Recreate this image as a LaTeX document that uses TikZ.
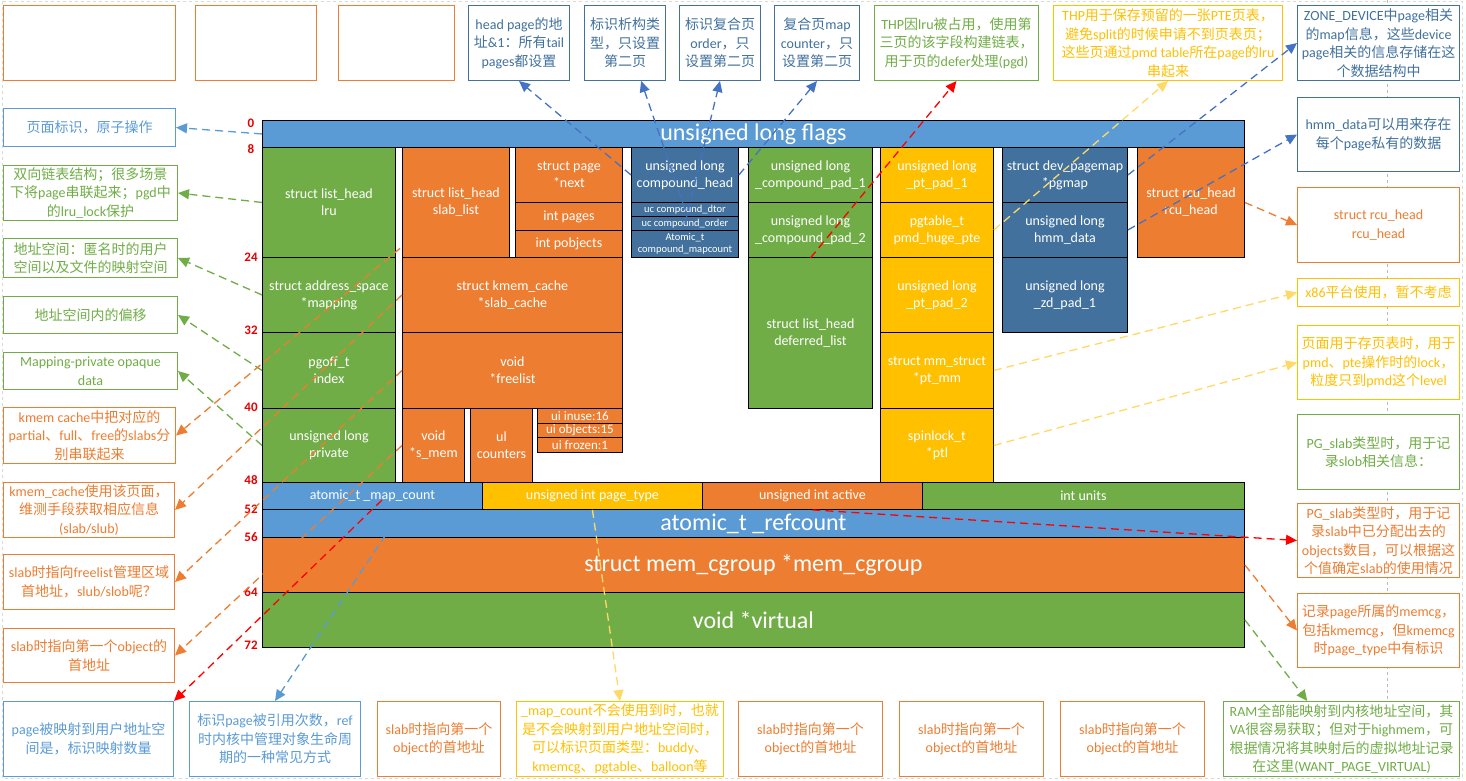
\documentclass[tikz,border=0pt]{standalone}
\usepackage{fontspec}
\setmainfont{Carlito}
\newfontfamily\cjk{Noto Sans CJK SC}
\usetikzlibrary{arrows.meta}

% colours of the struct page picture
\definecolor{cblue}{RGB}{91,155,213}
\definecolor{cdblue}{RGB}{65,113,156}
\definecolor{clink}{RGB}{68,114,196}
\definecolor{corange}{RGB}{237,125,49}
\definecolor{cgreen}{RGB}{112,173,71}
\definecolor{cyellow}{RGB}{255,192,0}
\definecolor{cpale}{RGB}{255,217,102}
\definecolor{cred}{RGB}{230,0,0}
\definecolor{cmark}{RGB}{255,0,0}

% switch to the CJK family for Chinese characters
\XeTeXinterchartokenstate=1
\newXeTeXintercharclass\cjkclass
\makeatletter
\count@="3000
\loop \XeTeXcharclass\count@=\cjkclass \advance\count@ by 1 \ifnum\count@<"3040 \repeat
\count@="4E00
\loop \XeTeXcharclass\count@=\cjkclass \advance\count@ by 1 \ifnum\count@<"A000 \repeat
\count@="FF00
\loop \XeTeXcharclass\count@=\cjkclass \advance\count@ by 1 \ifnum\count@<"FFF0 \repeat
\makeatother
\XeTeXinterchartoks 0 \cjkclass = {\cjk}
\XeTeXinterchartoks 4095 \cjkclass = {\cjk}
\XeTeXinterchartoks \cjkclass 0 = {\rmfamily}
\XeTeXinterchartoks \cjkclass 4095 = {\rmfamily}

\begin{document}
\begin{tikzpicture}[x=1pt, y=-1pt,
    field/.style={draw=black, line width=0.9pt, text=white, align=center, inner sep=0pt, anchor=north west, font=\fontsize{14}{17}\selectfont},
    bigfield/.style={field, font=\fontsize{24}{26}\selectfont},
    tinyfield/.style={field, font=\fontsize{10.5}{12}\selectfont},
    bitfield/.style={field, font=\fontsize{13}{14}\selectfont},
    note/.style={draw, fill=white, line width=1pt, align=center, inner sep=0pt, anchor=north west, font=\fontsize{14}{18.5}\selectfont},
    offs/.style={text=cred, inner sep=0pt, font=\bfseries\fontsize{13}{13}\selectfont},
    lnk/.style={line width=1.3pt, dash pattern=on 8pt off 5pt, -{Triangle[length=11pt,width=10pt]}},
    wh/.style 2 args={minimum width=#1, minimum height=#2}]
\useasboundingbox (0,0) rectangle (1466,780);
\fill[white] (0,0) rectangle (1466,780);

% Drawing page border and guide line
\draw[gray!30, dashed, line width=0.6pt] (2,1) rectangle (1462,778);
\draw[gray!55, dashed, line width=0.8pt] (1387,0) -- (1387,701);

% Drawing word 0
\node[bigfield, fill=cblue, wh={982}{27}] (flags) at (262,120) {unsigned long flags};

% Drawing column lru / mapping
\node[field, fill=cgreen, wh={133}{110}] (lru) at (262,147) {struct list\_head\\lru};
\node[field, fill=cgreen, wh={133}{75}] (mapping) at (262,257) {struct address\_space\\*mapping};
\node[field, fill=cgreen, wh={133}{76}] (index) at (262,332) {pgoff\_t\\index};
\node[field, fill=cgreen, wh={133}{74}] (private) at (262,408) {unsigned long\\private};

% Drawing column slab
\node[field, fill=corange, wh={107}{110}] (slablist) at (402,147) {struct list\_head\\slab\_list};
\node[field, fill=corange, wh={107}{55}] (next) at (515,147) {struct page\\*next};
\node[field, fill=corange, wh={107}{28}] (pages) at (515,202) {int pages};
\node[field, fill=corange, wh={107}{27}] (pobjects) at (515,230) {int pobjects};
\node[field, fill=corange, wh={220}{75}] (slabcache) at (402,257) {struct kmem\_cache\\*slab\_cache};
\node[field, fill=corange, wh={220}{76}] (freelist) at (402,332) {void\\*freelist};
\node[field, fill=corange, wh={62}{74}] (smem) at (402,408) {void\\*s\_mem};
\node[field, fill=corange, wh={62}{74}] (counters) at (470,408) {ul\\counters};
\node[bitfield, fill=corange, wh={85}{15}] (inuse) at (537,408) {ui inuse:16};
\node[bitfield, fill=corange, wh={85}{14}] (objects) at (537,423) {ui objects:15};
\node[bitfield, fill=corange, wh={85}{15}] (frozen) at (537,437) {ui frozen:1};

% Drawing column compound
\node[field, fill=cdblue, wh={107}{55}] (cmphead) at (631,147) {unsigned long\\compound\_head};
\node[tinyfield, fill=cdblue, wh={107}{14}] (cmpdtor) at (631,202) {uc compound\_dtor};
\node[tinyfield, fill=cdblue, wh={107}{14}] (cmporder) at (631,216) {uc compound\_order};
\node[tinyfield, fill=cdblue, wh={107}{27}] (cmpmap) at (631,230) {Atomic\_t\\compound\_mapcount};

% Drawing column second tail page
\node[field, fill=cgreen, wh={124}{55}] (pad1) at (748,147) {unsigned long\\\_compound\_pad\_1};
\node[field, fill=cgreen, wh={124}{55}] (pad2) at (748,202) {unsigned long\\\_compound\_pad\_2};
\node[field, fill=cgreen, wh={124}{151}] (deferred) at (748,257) {struct list\_head\\deferred\_list};

% Drawing column page table
\node[field, fill=cyellow, wh={113}{55}] (ptpad1) at (880,147) {unsigned long\\\_pt\_pad\_1};
\node[field, fill=cyellow, wh={113}{55}] (pmdhuge) at (880,202) {pgtable\_t\\pmd\_huge\_pte};
\node[field, fill=cyellow, wh={113}{75}] (ptpad2) at (880,257) {unsigned long\\\_pt\_pad\_2};
\node[field, fill=cyellow, wh={113}{76}] (ptmm) at (880,332) {struct mm\_struct\\*pt\_mm};
\node[field, fill=cyellow, wh={113}{74}] (ptl) at (880,408) {spinlock\_t\\*ptl};

% Drawing column zone device
\node[field, fill=cdblue, wh={125}{55}] (pgmap) at (1002,147) {struct dev\_pagemap\\*pgmap};
\node[field, fill=cdblue, wh={125}{55}] (hmmdata) at (1002,202) {unsigned long\\hmm\_data};
\node[field, fill=cdblue, wh={125}{75}] (zdpad) at (1002,257) {unsigned long\\\_zd\_pad\_1};

% Drawing column rcu
\node[field, fill=corange, wh={107}{110}] (rcuhead) at (1137,147) {struct rcu\_head\\rcu\_head};

% Drawing words 48 .. 72
\node[field, fill=cblue, wh={220}{27}] (mapcount) at (262,482) {atomic\_t \_map\_count};
\node[field, fill=cyellow, wh={220}{27}] (pagetype) at (482,482) {unsigned int page\_type};
\node[field, fill=corange, wh={220}{27}] (active) at (702,482) {unsigned int active};
\node[field, fill=cgreen, wh={322}{27}] (units) at (922,482) {int units};
\node[bigfield, fill=cblue, wh={982}{28}] (refcount) at (262,509) {atomic\_t \_refcount};
\node[bigfield, fill=corange, wh={982}{55}] (memcg) at (262,537) {struct mem\_cgroup *mem\_cgroup};
\node[bigfield, fill=cgreen, wh={982}{55}] (virtual) at (262,592) {void *virtual};

% Marking offsets
\node[offs] (off0) at (251,123) {0};
\node[offs] (off8) at (251,149) {8};
\node[offs] (off24) at (251,257) {24};
\node[offs] (off32) at (251,330) {32};
\node[offs] (off40) at (251,407) {40};
\node[offs] (off48) at (251,480) {48};
\node[offs] (off52) at (251,509) {52};
\node[offs] (off56) at (251,537) {56};
\node[offs] (off64) at (251,592) {64};
\node[offs] (off72) at (251,645) {72};

% Drawing notes, top row
\node[note, draw=corange, wh={172}{75}] (blanka) at (3,5) {};
\node[note, draw=corange, wh={121}{75}] (blankb) at (195,5) {};
\node[note, draw=corange, wh={116}{75}] (blankc) at (338,5) {};
\node[note, draw=cdblue, text=cdblue, wh={101}{75}] (nhead) at (468,5) {head page的地\\址\&1：所有tail\\pages都设置};
\node[note, draw=cdblue, text=cdblue, wh={81}{75}] (ndtor) at (584,5) {标识析构类\\型，只设置\\第二页};
\node[note, draw=cdblue, text=cdblue, wh={81}{75}] (norder) at (679,5) {标识复合页\\order，只\\设置第二页};
\node[note, draw=cdblue, text=cdblue, wh={85}{75}] (nmapcnt) at (774,5) {复合页map\\counter，只\\设置第二页};
\node[note, draw=cgreen, text=cgreen, wh={164}{75}] (ngthp) at (874,5) {THP因lru被占用，使用第\\三页的该字段构建链表，\\用于页的defer处理(pgd)};
\node[note, draw=cyellow, text=cyellow, wh={229}{75}] (nythp) at (1053,5) {THP用于保存预留的一张PTE页表，\\避免split的时候申请不到页表页；\\这些页通过pmd table所在page的lru\\串起来};
\node[note, draw=cdblue, text=cdblue, wh={162}{75}] (nzone) at (1297,5) {ZONE\_DEVICE中page相关\\的map信息，这些device\\page相关的信息存储在这\\个数据结构中};

% Drawing notes, right column
\node[note, draw=cdblue, text=cdblue, wh={162}{74}] (nhmm) at (1297,97) {hmm\_data可以用来存在\\每个page私有的数据};
\node[note, draw=corange, text=corange, wh={162}{75}] (nrcu) at (1297,187) {struct rcu\_head\\rcu\_head};
\node[note, draw=cyellow, text=cyellow, wh={162}{28}] (nx86) at (1297,278) {x86平台使用，暂不考虑};
\node[note, draw=cyellow, text=cyellow, wh={162}{74}] (npglock) at (1297,325) {页面用于存页表时，用于\\pmd、pte操作时的lock，\\粒度只到pmd这个level};
\node[note, draw=cgreen, text=cgreen, wh={162}{75}] (nslob) at (1297,414) {PG\_slab类型时，用于记\\录slob相关信息：};
\node[note, draw=corange, text=corange, wh={162}{74}] (nslabcnt) at (1297,503) {PG\_slab类型时，用于记\\录slab中已分配出去的\\objects数目，可以根据这\\个值确定slab的使用情况};
\node[note, draw=corange, text=corange, wh={162}{74}] (nmemcg) at (1297,593) {记录page所属的memcg，\\包括kmemcg，但kmemcg\\时page\_type中有标识};

% Drawing notes, left column
\node[note, draw=cblue, text=cblue, wh={172}{38}] (nflags) at (3,108) {页面标识，原子操作};
\node[note, draw=cgreen, text=cgreen, wh={174}{55}] (nlru) at (3,165) {双向链表结构；很多场景\\下将page串联起来；pgd中\\的lru\_lock保护};
\node[note, draw=cgreen, text=cgreen, wh={174}{39}] (nmapping) at (3,238) {地址空间：匿名时的用户\\空间以及文件的映射空间};
\node[note, draw=cgreen, text=cgreen, wh={174}{37}] (nindex) at (3,296) {地址空间内的偏移};
\node[note, draw=cgreen, text=cgreen, wh={174}{37}] (nprivate) at (3,352) {Mapping-private opaque\\data};
\node[note, draw=corange, text=corange, wh={172}{56}] (nkmemlist) at (3,407) {kmem cache中把对应的\\partial、full、free的slabs分\\别串联起来};
\node[note, draw=corange, text=corange, wh={171}{55}] (nkmemuse) at (3,482) {kmem\_cache使用该页面，\\维测手段获取相应信息\\(slab/slub)};
\node[note, draw=corange, text=corange, wh={171}{55}] (nfreelist) at (3,554) {slab时指向freelist管理区域\\首地址，slub/slob呢？};
\node[note, draw=corange, text=corange, wh={171}{54}] (nsmem) at (3,628) {slab时指向第一个object的\\首地址};

% Drawing notes, bottom row
\node[note, draw=cblue, text=cblue, wh={170}{75}] (npgmap) at (3,701) {page被映射到用户地址空\\间是，标识映射数量};
\node[note, draw=cblue, text=cblue, wh={171}{75}] (nrefcnt) at (189,701) {标识page被引用次数，ref\\时内核中管理对象生命周\\期的一种常见方式};
\node[note, draw=corange, text=corange, wh={123}{75}] (nslaba) at (377,701) {slab时指向第一个\\object的首地址};
\node[note, draw=cyellow, text=cyellow, wh={207}{75}] (nmaptype) at (516,701) {\_map\_count不会使用到时，也就\\是不会映射到用户地址空间时，\\可以标识页面类型：buddy、\\kmemcg、pgtable、balloon等};
\node[note, draw=corange, text=corange, wh={144}{75}] (nslabb) at (738,701) {slab时指向第一个\\object的首地址};
\node[note, draw=corange, text=corange, wh={144}{75}] (nslabc) at (899,701) {slab时指向第一个\\object的首地址};
\node[note, draw=corange, text=corange, wh={144}{75}] (nslabd) at (1060,701) {slab时指向第一个\\object的首地址};
\node[note, draw=cgreen, text=cgreen, wh={236}{75}] (nram) at (1223,701) {RAM全部能映射到内核地址空间，其\\VA很容易获取；但对于highmem，可\\根据情况将其映射后的虚拟地址记录\\在这里(WANT\_PAGE\_VIRTUAL)};

% Points inside fields where links start
\coordinate (slabptr) at (410,240);
\coordinate (mapcntptr) at (382,500);
\coordinate (refptr) at (393,524);

% Drawing links to left column
\draw[lnk, cblue] (flags.west) -- (nflags.east);
\draw[lnk, cgreen] (lru.west) -- (nlru.east);
\draw[lnk, cgreen] (mapping.west) -- (nmapping.east);
\draw[lnk, cgreen] (index.west) -- (nindex.east);
\draw[lnk, cgreen] (private.west) -- (nprivate.east);
\draw[lnk, corange] (slabptr) -- (nkmemlist.east);
\draw[lnk, corange] (slabcache.west) -- (nkmemuse.east);
\draw[lnk, corange] (freelist.west) -- (nfreelist.east);
\draw[lnk, corange] (smem.west) -- (nsmem.east);

% Drawing links to top row
\draw[lnk, clink] (cmphead.west) -- (nhead.south);
\draw[lnk, clink] (cmpdtor.center) -- (ndtor.-67);
\draw[lnk, clink] (cmporder.center) -- (norder.south);
\draw[lnk, clink] (cmphead.east) -- (nmapcnt.south);
\draw[lnk, cmark] (pad2.south) -- (ngthp.south);
\draw[lnk, cpale] (pmdhuge.east) -- (nythp.south);
\draw[lnk, clink] (pgmap.east) -- (nzone.west);

% Drawing links to right column
\draw[lnk, clink] (hmmdata.east) -- (nhmm.west);
\draw[lnk, corange] (rcuhead.east) -- (nrcu.west);
\draw[lnk, cpale] (ptmm.east) -- (nx86.west);
\draw[lnk, cpale] (ptl.east) -- (npglock.west);
\draw[lnk, cmark] (active.south) -- (nslabcnt.west);
\draw[lnk, corange] (memcg.east) -- (nmemcg.west);
\draw[lnk, cgreen] (virtual.east) -- (nram.132);

% Drawing links to bottom row
\draw[lnk, cpale] (pagetype.south) -- (nmaptype.north);
\draw[lnk, cblue] (refptr) -- (nrefcnt.north);
\draw[lnk, cmark] (mapcntptr) -- (npgmap.north east);
\end{tikzpicture}
\end{document}
